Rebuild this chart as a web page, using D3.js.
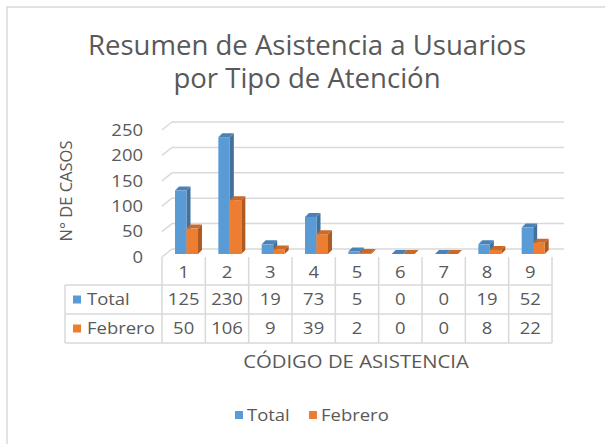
<!DOCTYPE html>
<html>
<head>
<meta charset="utf-8">
<script src="https://cdn.jsdelivr.net/npm/d3@7"></script>
<style>
  body { margin: 0; background: #fff; }
  text { font-family: "Open Sans", Lato, sans-serif; fill: #595959; }
</style>
</head>
<body>
<svg id="chart" width="605" height="444"></svg>
<script>
var categories = ["1", "2", "3", "4", "5", "6", "7", "8", "9"];
var seriesNames = ["Total", "Febrero"];
var totalValues = [125, 230, 19, 73, 5, 0, 0, 19, 52];
var febreroValues = [50, 106, 9, 39, 2, 0, 0, 8, 22];
var yTicks = [0, 50, 100, 150, 200, 250];

var colors = { Total: ["#5B9BD5", "#41719C", "#4A82B8"], Febrero: ["#ED7D31", "#AE5A21", "#C96A28"] };
var series = [
  { name: "Total", values: totalValues },
  { name: "Febrero", values: febreroValues }
];

var svg = d3.select("#chart");
var SX = 1.12; // el texto original es algo más ancho

function addText(x, y, str, size, anchor, sx) {
  return svg.append("text")
    .attr("transform", "translate(" + x + "," + y + ") scale(" + (sx || SX) + ",1)")
    .attr("dy", "0.35em").attr("text-anchor", anchor || "start")
    .style("font-size", size + "px").text(str);
}

// marco del gráfico (solo arriba e izquierda visibles)
svg.append("path").attr("d", "M7,444 L7,7 L605,7").attr("fill", "none")
  .attr("stroke", "#d9d9d9").attr("stroke-width", 1.5);

// título
var title = svg.append("text").attr("text-anchor", "middle").style("font-size", "26.5px")
  .attr("transform", "translate(307,0) scale(1.04,1)");
title.append("tspan").attr("x", 0).attr("y", 55).text("Resumen de Asistencia a Usuarios");
title.append("tspan").attr("x", 0).attr("y", 88).text("por Tipo de Atención");

var x = d3.scaleBand().domain(categories).range([162, 552]);
var y = d3.scaleLinear().domain([0, 250]).range([254, 127]);
var backDx = 10, backDy = -5, frontDy = 3;

// rejilla sobre la pared del fondo
var grid = svg.append("g").attr("stroke", "#d9d9d9").attr("stroke-width", 1.5);
yTicks.forEach(function(t) {
  var yy = y(t);
  grid.append("line").attr("x1", 162).attr("y1", yy + frontDy).attr("x2", 162 + backDx).attr("y2", yy + backDy);
  grid.append("line").attr("x1", 162 + backDx).attr("y1", yy + backDy).attr("x2", 564).attr("y2", yy + backDy);
  addText(143, yy + frontDy, t, 16.5, "end");
});

// eje Y título
svg.append("text").attr("transform", "translate(72,191) rotate(-90)").attr("text-anchor", "middle")
  .style("font-size", "16.5px").text("N° DE CASOS");

// barras 3D
var barW = 11.5, depth = 4;
series.forEach(function(s, si) {
  var c = colors[s.name];
  var g = svg.append("g").attr("class", "serie-" + s.name);
  g.selectAll("g").data(s.values).enter().append("g").each(function(v, i) {
    var e = d3.select(this);
    var x0 = x(categories[i]) + 13 + si * barW, x1 = x0 + barW;
    var y0 = y(0), y1 = y(v);
    e.append("path").attr("d", "M" + x1 + "," + y1 + "L" + (x1 + depth) + "," + (y1 - depth) + "L" + (x1 + depth) + "," + (y0 - depth) + "L" + x1 + "," + y0 + "Z").attr("fill", c[1]);
    e.append("path").attr("d", "M" + x0 + "," + y1 + "L" + (x0 + depth) + "," + (y1 - depth) + "L" + (x1 + depth) + "," + (y1 - depth) + "L" + x1 + "," + y1 + "Z").attr("fill", c[2]);
    e.append("rect").attr("x", x0).attr("y", y1).attr("width", barW).attr("height", y0 - y1).attr("fill", c[0]);
  });
});

// tabla de datos
var rowTop = 285, rowH = 29;
var tbl = svg.append("g").attr("stroke", "#d9d9d9").attr("stroke-width", 1.5);
categories.forEach(function(cat) {
  tbl.append("line").attr("x1", x(cat)).attr("x2", x(cat)).attr("y1", 257).attr("y2", rowTop + 2 * rowH);
});
tbl.append("line").attr("x1", 552).attr("x2", 552).attr("y1", 257).attr("y2", rowTop + 2 * rowH);
tbl.append("line").attr("x1", 65).attr("x2", 65).attr("y1", rowTop).attr("y2", rowTop + 2 * rowH);
[0, 1, 2].forEach(function(r) {
  tbl.append("line").attr("x1", 65).attr("x2", 552).attr("y1", rowTop + r * rowH).attr("y2", rowTop + r * rowH);
});
categories.forEach(function(cat) {
  addText(x(cat) + x.bandwidth() / 2, 272, cat, 16.5, "middle");
});
series.forEach(function(s, si) {
  var cy = rowTop + si * rowH + rowH / 2;
  svg.append("rect").attr("x", 73).attr("y", cy - 4).attr("width", 8).attr("height", 8).attr("fill", colors[s.name][0]);
  addText(87, cy, s.name, 16.5, "start");
  s.values.forEach(function(v, i) {
    addText(x(categories[i]) + x.bandwidth() / 2, cy, v, 16.5, "middle");
  });
});

// título eje X
addText(356, 362, "CÓDIGO DE ASISTENCIA", 17.5, "middle", 1.16);

// leyenda
var legX = [235, 309];
seriesNames.forEach(function(n, i) {
  svg.append("rect").attr("x", legX[i]).attr("y", 411).attr("width", 8).attr("height", 8).attr("fill", colors[n][0]);
  addText(legX[i] + 12, 415, n, 16.5, "start");
});
</script>
</body>
</html>
